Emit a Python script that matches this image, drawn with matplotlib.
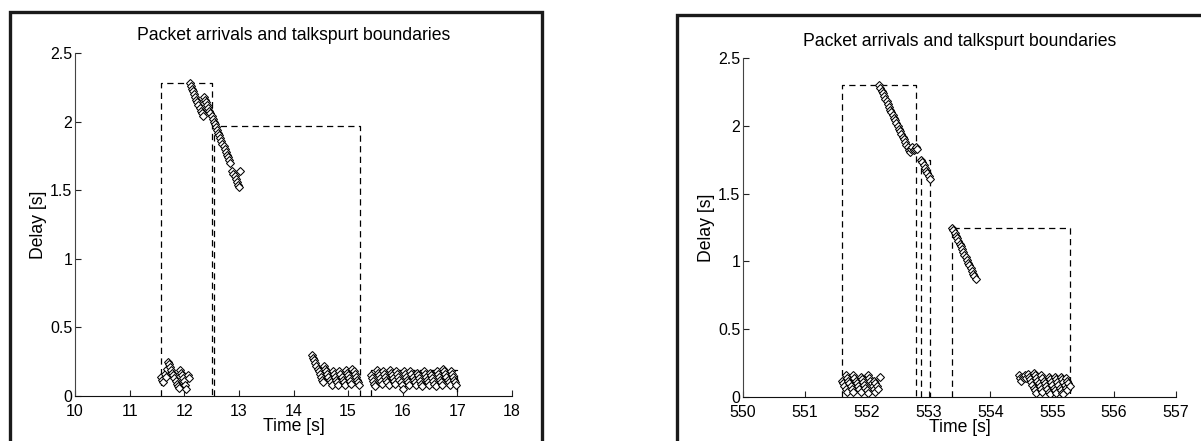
import matplotlib
matplotlib.use("Agg")
import matplotlib.pyplot as plt
from matplotlib.patches import Rectangle

plt.rcParams['font.family'] = ['Liberation Sans', 'DejaVu Sans']

# ---- left trace: packet send time [s] and delay [s] ----
t_left = [
    11.58, 11.60, 11.62, 11.64, 11.66, 11.68,
    11.70, 11.72, 11.74, 11.76, 11.78, 11.80, 11.82, 11.84, 11.86, 11.88, 11.90,
    11.92, 11.94, 11.96, 11.98, 12.00, 12.02, 12.04,
    12.06, 12.08,
    12.10, 12.12, 12.14, 12.16, 12.18, 12.20, 12.22, 12.24, 12.26, 12.28, 12.30, 12.32, 12.34,
    12.36, 12.38, 12.40, 12.42, 12.44, 12.46, 12.48, 12.50, 12.52, 12.54, 12.56, 12.58, 12.60,
    12.62, 12.64, 12.66, 12.68, 12.70, 12.72, 12.74, 12.76, 12.78, 12.80, 12.82, 12.84,
    12.88, 12.90, 12.92, 12.94, 12.96, 12.98, 13.00, 13.02,
    14.34, 14.36, 14.38, 14.40, 14.42, 14.44, 14.46, 14.48, 14.50, 14.52, 14.54,
    14.56, 14.58, 14.60, 14.62, 14.64, 14.66, 14.68, 14.70,
    14.72, 14.74, 14.76, 14.78, 14.80, 14.82,
    14.84, 14.86, 14.88, 14.90, 14.92, 14.94,
    14.96, 14.98, 15.00, 15.02, 15.04, 15.06,
    15.08, 15.10, 15.12, 15.14, 15.16, 15.18, 15.20,
    15.42, 15.44, 15.46, 15.48, 15.50,
    15.52, 15.54, 15.56, 15.58, 15.60, 15.62,
    15.64, 15.66, 15.68, 15.70, 15.72, 15.74,
    15.76, 15.78, 15.80, 15.82, 15.84, 15.86,
    15.88, 15.90, 15.92, 15.94, 15.96, 15.98, 16.00,
    16.02, 16.04, 16.06, 16.08, 16.10, 16.12,
    16.14, 16.16, 16.18, 16.20, 16.22, 16.24,
    16.26, 16.28, 16.30, 16.32, 16.34, 16.36,
    16.38, 16.40, 16.42, 16.44, 16.46, 16.48,
    16.50, 16.52, 16.54, 16.56, 16.58, 16.60,
    16.62, 16.64, 16.66, 16.68, 16.70, 16.72,
    16.74, 16.76, 16.78, 16.80, 16.82, 16.84, 16.86,
    16.88, 16.90, 16.92, 16.94, 16.96, 16.98,
]
d_left = [
    0.14, 0.12, 0.10, 0.16, 0.14, 0.20,
    0.25, 0.23, 0.21, 0.19, 0.17, 0.15, 0.13, 0.11, 0.09, 0.07, 0.06,
    0.19, 0.17, 0.15, 0.13, 0.11, 0.08, 0.05,
    0.15, 0.13,
    2.28, 2.26, 2.24, 2.22, 2.20, 2.18, 2.16, 2.14, 2.12, 2.10, 2.08, 2.06, 2.04,
    2.18, 2.16, 2.14, 2.12, 2.10, 2.08, 2.06, 2.04, 2.02, 2.00, 1.98, 1.96, 1.94,
    1.92, 1.90, 1.88, 1.86, 1.84, 1.82, 1.80, 1.78, 1.76, 1.74, 1.72, 1.70,
    1.64, 1.62, 1.60, 1.58, 1.56, 1.54, 1.52, 1.64,
    0.30, 0.28, 0.26, 0.24, 0.22, 0.20, 0.18, 0.16, 0.14, 0.12, 0.10,
    0.22, 0.20, 0.18, 0.16, 0.14, 0.12, 0.10, 0.08,
    0.18, 0.16, 0.14, 0.12, 0.10, 0.08,
    0.18, 0.16, 0.14, 0.12, 0.10, 0.08,
    0.19, 0.17, 0.15, 0.13, 0.11, 0.09,
    0.20, 0.18, 0.16, 0.14, 0.12, 0.10, 0.08,
    0.15, 0.13, 0.11, 0.09, 0.07,
    0.19, 0.17, 0.15, 0.13, 0.11, 0.09,
    0.18, 0.16, 0.14, 0.12, 0.10, 0.08,
    0.19, 0.17, 0.15, 0.13, 0.11, 0.09,
    0.18, 0.16, 0.14, 0.12, 0.10, 0.08, 0.05,
    0.18, 0.16, 0.14, 0.12, 0.10, 0.08,
    0.18, 0.16, 0.14, 0.12, 0.10, 0.08,
    0.17, 0.15, 0.13, 0.11, 0.09, 0.07,
    0.18, 0.16, 0.14, 0.12, 0.10, 0.08,
    0.17, 0.15, 0.13, 0.11, 0.09, 0.07,
    0.18, 0.16, 0.14, 0.12, 0.10, 0.08,
    0.20, 0.18, 0.16, 0.14, 0.12, 0.10, 0.08,
    0.18, 0.16, 0.14, 0.12, 0.10, 0.08,
]
# talkspurt boundaries: start, end, playout delay
ts_start_left = [11.575, 12.545, 15.42]
ts_end_left = [12.515, 15.225, 16.99]
ts_delay_left = [2.28, 1.97, 0.19]

# ---- right trace ----
t_right = [
    551.60, 551.62, 551.64, 551.66, 551.68,
    551.66, 551.68, 551.70, 551.72, 551.74, 551.76, 551.78,
    551.78, 551.80, 551.82, 551.84, 551.86, 551.88, 551.90,
    551.90, 551.92, 551.94, 551.96, 551.98, 552.00, 552.02,
    552.02, 552.04, 552.06, 552.08, 552.10, 552.12, 552.14,
    552.12, 552.14, 552.16, 552.18, 552.21,
    552.20, 552.22, 552.24, 552.26, 552.28, 552.30, 552.32, 552.34, 552.36, 552.38,
    552.40, 552.42, 552.44, 552.46, 552.48, 552.50, 552.52, 552.54, 552.56, 552.58,
    552.60, 552.62, 552.64, 552.66, 552.68,
    552.70, 552.72, 552.74, 552.76, 552.78, 552.80, 552.82,
    552.88, 552.90, 552.92, 552.94, 552.96, 552.98, 553.00, 553.02,
    553.38, 553.40, 553.42, 553.44, 553.46, 553.48, 553.50, 553.52, 553.54, 553.56,
    553.58, 553.60, 553.62, 553.64, 553.66, 553.68, 553.70, 553.72, 553.74, 553.76,
    554.46, 554.48, 554.50, 554.52, 554.54, 554.56, 554.58,
    554.60, 554.62, 554.64, 554.66, 554.68, 554.70, 554.72, 554.74,
    554.70, 554.72, 554.74, 554.76, 554.78, 554.80, 554.82, 554.84,
    554.82, 554.84, 554.86, 554.88, 554.90, 554.92, 554.94, 554.96,
    554.94, 554.96, 554.98, 555.00, 555.02, 555.04, 555.06,
    555.04, 555.06, 555.08, 555.10, 555.12, 555.14, 555.16, 555.18,
    555.14, 555.16, 555.18, 555.20, 555.22, 555.24,
    555.22, 555.24, 555.26, 555.28,
]
d_right = [
    0.12, 0.10, 0.08, 0.06, 0.04,
    0.16, 0.14, 0.12, 0.10, 0.08, 0.06, 0.04,
    0.16, 0.14, 0.12, 0.10, 0.08, 0.06, 0.04,
    0.15, 0.13, 0.11, 0.09, 0.07, 0.05, 0.03,
    0.16, 0.14, 0.12, 0.10, 0.08, 0.06, 0.04,
    0.12, 0.10, 0.08, 0.06, 0.145,
    2.30, 2.28, 2.26, 2.24, 2.22, 2.20, 2.18, 2.16, 2.14, 2.12,
    2.10, 2.08, 2.06, 2.04, 2.02, 2.00, 1.98, 1.96, 1.94, 1.92,
    1.90, 1.88, 1.86, 1.84, 1.82,
    1.81, 1.83, 1.84, 1.82, 1.83, 1.84, 1.83,
    1.75, 1.73, 1.71, 1.69, 1.67, 1.65, 1.63, 1.61,
    1.25, 1.23, 1.21, 1.19, 1.17, 1.15, 1.13, 1.11, 1.09, 1.07,
    1.05, 1.03, 1.01, 0.99, 0.97, 0.95, 0.93, 0.91, 0.89, 0.87,
    0.16, 0.14, 0.12, 0.15, 0.14, 0.16, 0.14,
    0.17, 0.15, 0.13, 0.11, 0.09, 0.07, 0.05, 0.03,
    0.18, 0.16, 0.14, 0.12, 0.10, 0.08, 0.06, 0.04,
    0.16, 0.14, 0.12, 0.10, 0.08, 0.06, 0.04, 0.02,
    0.15, 0.13, 0.11, 0.09, 0.07, 0.05, 0.03,
    0.15, 0.13, 0.11, 0.09, 0.07, 0.05, 0.03, 0.02,
    0.15, 0.13, 0.11, 0.09, 0.07, 0.05,
    0.14, 0.12, 0.10, 0.08,
]
ts_start_right = [551.60, 552.875, 553.38]
ts_end_right = [552.80, 553.02, 555.28]
ts_delay_right = [2.30, 1.75, 1.25]

yticks = [0, 0.5, 1, 1.5, 2, 2.5]
ytick_labels = ['0', '0.5', '1', '1.5', '2', '2.5']

W, H = 1201, 441
fig = plt.figure(figsize=(W / 100, H / 100), dpi=100)


def frame(x0, y0, x1, y1):
    # outer box around each panel (cut off by the picture edge)
    r = Rectangle((x0 / W, 1 - y1 / H), (x1 - x0) / W, (y1 - y0) / H,
                  transform=fig.transFigure, fill=False, ec='#1a1a1a',
                  lw=2.4, clip_on=False)
    fig.add_artist(r)


def panel(rect, t, d, starts, ends, delays, xlim):
    ax = fig.add_axes(rect)
    for s, e, top in zip(starts, ends, delays):
        ax.plot([s, s, e, e], [0, top, top, 0], color='k', ls=(0, (5, 3.5)),
                lw=0.9)
    ax.plot(t, d, ls='none', marker='D', ms=4.4, mfc='white', mec='k',
            mew=0.75)
    ax.set_xlim(xlim)
    ax.set_ylim(0, 2.5)
    ax.set_xticks(range(xlim[0], xlim[1] + 1))
    ax.set_yticks(yticks)
    ax.set_yticklabels(ytick_labels)
    for s in ['top', 'right']:
        ax.spines[s].set_visible(False)
    ax.spines['left'].set_color('#444444')
    ax.spines['bottom'].set_color('#111111')
    ax.tick_params(direction='in', length=4, labelsize=11.5, pad=2,
                   colors='#222222', labelcolor='k')
    ax.tick_params(axis='x', pad=6)
    ax.set_title('Packet arrivals and talkspurt boundaries', fontsize=12.7,
                 pad=9)
    ax.set_xlabel('Time [s]', fontsize=12.7, labelpad=-1)
    ax.set_ylabel('Delay [s]', fontsize=12.7)
    ax.yaxis.set_label_coords(-28 / (rect[2] * W), 0.5)
    ax.patch.set_alpha(0)
    return ax


frame(10, 12, 542, 600)
frame(677, 15, 1400, 600)

panel([75 / W, 45 / H, 437 / W, 343 / H], t_left, d_left,
      ts_start_left, ts_end_left, ts_delay_left, (10, 18))
panel([743 / W, 44 / H, 433 / W, 339 / H], t_right, d_right,
      ts_start_right, ts_end_right, ts_delay_right, (550, 557))

fig.savefig('out.png', dpi=100)
